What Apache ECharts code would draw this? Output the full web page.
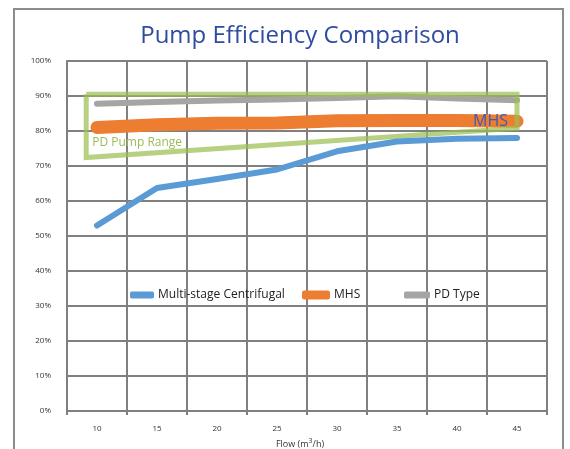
<!DOCTYPE html>
<html>
<head>
<meta charset="utf-8">
<script src="https://cdn.jsdelivr.net/npm/echarts@6/dist/echarts.min.js"></script>
<style>
  html, body { margin: 0; padding: 0; background: #fff; }
  #main { width: 570px; height: 449px; }
</style>
</head>
<body>
<div id="main"></div>
<script>
// flow categories (m3/h)
var flows = ['10', '15', '20', '25', '30', '35', '40', '45'];
// efficiency in %
var multiStage = [53, 63.7, 66.3, 69, 74.2, 77, 77.8, 78];
var mhs = [81, 81.8, 82.2, 82.3, 82.9, 83, 83, 82.8];
var pdType = [87.8, 88.3, 88.7, 89, 89.4, 89.9, 89.3, 88.8];
// outline of the PD pump range band, [flow, efficiency]
var pdRange = [[9.1, 90.5], [45, 90.5], [45, 80.8], [9.1, 72.4], [9.1, 90.5]];
var yTicks = [0, 10, 20, 30, 40, 50, 60, 70, 80, 90, 100];

var chart = echarts.init(document.getElementById('main'));
var gridColor = '#808080';
var font = '"Open Sans", sans-serif';

function legendItem(name, left, h, w) {
    return {
        data: [name], left: left, top: 289, padding: 0,
        icon: 'roundRect', itemWidth: w, itemHeight: h, itemGap: 4,
        textStyle: { fontSize: 12, color: '#222', fontFamily: font, padding: [0, 0, 0, -1] }
    };
}

var option = {
    animation: false,
    textStyle: { fontFamily: font },
    title: {
        text: 'Pump Efficiency Comparison',
        left: 295,
        textAlign: 'center',
        top: 19,
        textStyle: { color: '#2f4c9e', fontSize: 24, fontWeight: 'normal', fontFamily: font }
    },
    graphic: [
        {
            type: 'rect',
            shape: { x: 14, y: 9, width: 549, height: 470 },
            style: { fill: 'none', stroke: '#8c8c8c', lineWidth: 2 },
            z: 0
        }
    ],
    legend: [
        legendItem('Multi-stage Centrifugal', 130, 7, 24),
        legendItem('MHS', 302, 9, 28),
        legendItem('PD Type', 404, 7, 26)
    ],
    grid: { left: 67, right: 23, top: 61, bottom: 38, outerBoundsMode: 'none', containLabel: false },
    xAxis: [
        {
            type: 'category',
            data: flows,
            boundaryGap: true,
            name: 'Flow (m{sup|3}/h)',
            nameLocation: 'middle',
            nameGap: 26,
            nameTextStyle: {
                fontSize: 9, color: '#333', padding: [0, 0, 0, -14],
                rich: { sup: { fontSize: 7, verticalAlign: 'top', padding: [0, 0, 6, 0] } }
            },
            axisLine: { lineStyle: { color: gridColor, width: 2 } },
            axisTick: { show: true, length: 4, lineStyle: { color: gridColor, width: 2 } },
            axisLabel: { fontSize: 8, color: '#333', margin: 14 },
            splitLine: { show: true, lineStyle: { color: gridColor, width: 2 } }
        },
        {
            type: 'value',
            min: 7.5,
            max: 47.5,
            show: false
        }
    ],
    yAxis: {
        type: 'value',
        min: 0,
        max: 100,
        interval: 10,
        axisLine: { show: true, lineStyle: { color: gridColor, width: 2 } },
        axisTick: { show: false },
        axisLabel: {
            fontSize: 8, color: '#333', margin: 16,
            formatter: function (v) { return yTicks.indexOf(v) >= 0 ? v + '%' : ''; }
        },
        splitLine: { show: true, lineStyle: { color: gridColor, width: 2 } }
    },
    series: [
        {
            name: 'PD Pump Range',
            type: 'line',
            xAxisIndex: 1,
            data: pdRange,
            symbol: 'none',
            lineStyle: { color: 'rgba(155,190,80,0.72)', width: 5, join: 'miter' },
            z: 3,
            markPoint: {
                symbol: 'circle', symbolSize: 0,
                label: {
                    show: true, formatter: 'PD Pump Range', position: 'right', distance: 6,
                    color: '#9bbb59', fontSize: 12, fontFamily: font
                },
                data: [{ coord: [9.1, 76.8] }]
            }
        },
        {
            name: 'Multi-stage Centrifugal',
            type: 'line',
            data: multiStage,
            symbol: 'none',
            itemStyle: { color: '#5b9bd5' },
            lineStyle: { color: '#5b9bd5', width: 6, cap: 'round', join: 'round' },
            z: 4
        },
        {
            name: 'MHS',
            type: 'line',
            data: mhs,
            symbol: 'none',
            itemStyle: { color: '#ed7d31' },
            lineStyle: { color: '#ed7d31', width: 13, cap: 'round', join: 'round' },
            z: 2,
            markPoint: {
                symbol: 'circle', symbolSize: 0,
                label: {
                    show: true, formatter: 'MHS', position: 'left', distance: 9,
                    color: '#3f5bb2', fontSize: 16, fontFamily: font
                },
                data: [{ coord: [flows.length - 1, mhs[mhs.length - 1]] }]
            }
        },
        {
            name: 'PD Type',
            type: 'line',
            data: pdType,
            symbol: 'none',
            itemStyle: { color: '#a5a5a5' },
            lineStyle: { color: '#a5a5a5', width: 6, cap: 'round', join: 'round' },
            z: 2
        }
    ]
};

chart.setOption(option);
</script>
</body>
</html>
